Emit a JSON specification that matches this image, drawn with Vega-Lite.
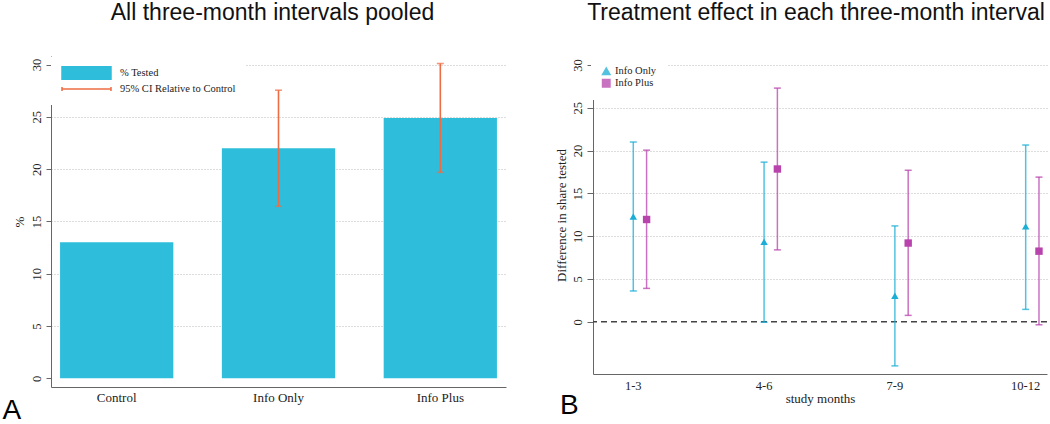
{
  "$schema": "https://vega.github.io/schema/vega-lite/v6.json",
  "background": "white",
  "padding": {"left": 2, "top": 2, "right": 0, "bottom": 0},
  "datasets": {
    "pooled": [
      {"arm": "Control", "pct": 13.0, "lo": null, "hi": null},
      {"arm": "Info Only", "pct": 22.0, "lo": 16.45, "hi": 27.55},
      {"arm": "Info Plus", "pct": 24.9, "lo": 19.7, "hi": 30.1}
    ],
    "intervals": [
      {"months": "1-3", "group": "Info Only", "est": 12.3, "lo": 3.6, "hi": 21.0},
      {"months": "1-3", "group": "Info Plus", "est": 11.95, "lo": 3.9, "hi": 20.05},
      {"months": "4-6", "group": "Info Only", "est": 9.35, "lo": -0.05, "hi": 18.65},
      {"months": "4-6", "group": "Info Plus", "est": 17.85, "lo": 8.4, "hi": 27.3},
      {"months": "7-9", "group": "Info Only", "est": 3.05, "lo": -5.15, "hi": 11.2},
      {"months": "7-9", "group": "Info Plus", "est": 9.2, "lo": 0.75, "hi": 17.7},
      {"months": "10-12", "group": "Info Only", "est": 11.15, "lo": 1.45, "hi": 20.65},
      {"months": "10-12", "group": "Info Plus", "est": 8.25, "lo": -0.35, "hi": 16.9}
    ],
    "zero": [{"ref": 0}]
  },
  "title": {"text": "B", "orient": "bottom", "anchor": "start", "font": "Liberation Sans", "fontSize": 28, "fontWeight": "normal", "color": "#000", "dx": 558, "dy": -32, "offset": 0},
  "spacing": 87,
  "bounds": "flush",
  "resolve": {"scale": {"color": "independent", "shape": "independent"}, "legend": {"color": "independent", "shape": "independent"}},
  "hconcat": [
    {
      "width": 455,
      "height": 331,
      "title": {"text": "All three-month intervals pooled", "offset": 31, "anchor": "middle", "dx": -6},
      "data": {"name": "pooled"},
      "layer": [
        {
          "mark": {"type": "bar"},
          "encoding": {
            "x": {"field": "arm", "type": "nominal", "sort": null,
              "scale": {"paddingInner": 0.3, "paddingOuter": 0.056},
              "axis": {"title": "A", "labelAngle": 0, "ticks": false, "labelPadding": 4, "labelFontSize": 13,
                "titleFont": "Liberation Sans", "titleFontSize": 28, "titleColor": "#000",
                "titleAnchor": "start", "titleAlign": "left", "titleBaseline": "alphabetic", "titleX": -49, "titleY": 31}},
            "y": {"field": "pct", "type": "quantitative",
              "scale": {"domain": [-0.83, 30.82], "nice": false, "zero": false},
              "axis": {"title": "%", "values": [0, 5, 10, 15, 20, 25, 30], "labelAngle": -90, "labelAlign": "center", "labelBaseline": "bottom",
                "tickSize": 5, "labelPadding": 3, "titlePadding": 4, "grid": true,
                "gridOpacity": {"condition": {"test": "datum.value === 0", "value": 0}, "value": 1}}},
            "color": {"datum": "% Tested",
              "scale": {"domain": ["% Tested", "95% CI Relative to Control"], "range": ["#2ebedb", "#ee6c44"]},
              "legend": {"title": null, "orient": "none", "legendX": 0, "legendY": 1, "padding": 10, "fillColor": "white",
                "symbolSize": 100, "labelOffset": 47, "rowPadding": -1.5, "labelFont": "Liberation Serif", "labelFontSize": 10.5, "labelColor": "#222",
                "symbolStrokeWidth": 1.5,
                "encode": {"symbols": {"update": {
                  "shape": {"signal": "datum.value === '% Tested' ? 'M-1,-1.27H8.8V1.27H-1Z' : 'M-1,0H8.8M-1,-0.4V0.4M8.8,-0.4V0.4'"},
                  "fill": {"signal": "datum.value === '% Tested' ? '#2ebedb' : 'transparent'"},
                  "stroke": {"signal": "datum.value === '% Tested' ? 'transparent' : '#ee6c44'"},
                  "strokeWidth": {"value": 1.5}
                }}}}}
          }
        },
        {
          "transform": [{"filter": "isValid(datum.lo)"}],
          "mark": {"type": "rule", "strokeWidth": 1.6},
          "encoding": {
            "x": {"field": "arm", "type": "nominal", "sort": null},
            "y": {"field": "lo", "type": "quantitative"},
            "y2": {"field": "hi"},
            "color": {"datum": "95% CI Relative to Control"}
          }
        },
        {
          "transform": [{"filter": "isValid(datum.lo)"}],
          "mark": {"type": "tick", "size": 7, "thickness": 1.6},
          "encoding": {
            "x": {"field": "arm", "type": "nominal", "sort": null},
            "y": {"field": "lo", "type": "quantitative"},
            "color": {"datum": "95% CI Relative to Control"}
          }
        },
        {
          "transform": [{"filter": "isValid(datum.hi)"}],
          "mark": {"type": "tick", "size": 7, "thickness": 1.6},
          "encoding": {
            "x": {"field": "arm", "type": "nominal", "sort": null},
            "y": {"field": "hi", "type": "quantitative"},
            "color": {"datum": "95% CI Relative to Control"}
          }
        }
      ]
    },
    {
      "width": 454,
      "height": 318,
      "title": {"text": "Treatment effect in each three-month interval", "offset": 31, "anchor": "middle", "dx": -4},
      "layer": [
        {
          "data": {"name": "zero"},
          "mark": {"type": "rule", "strokeDash": [6, 4], "color": "#444", "strokeWidth": 1.5},
          "encoding": {
            "y": {"field": "ref", "type": "quantitative", "title": "Difference in share tested",
              "scale": {"domain": [-6.1, 31.05], "nice": false, "zero": false},
              "axis": {"values": [0, 5, 10, 15, 20, 25, 30], "labelAngle": -90, "labelAlign": "center", "labelBaseline": "bottom",
                "tickSize": 6, "labelPadding": 3, "titlePadding": 3, "grid": true,
                "gridOpacity": {"condition": {"test": "datum.value === 0", "value": 0}, "value": 1}}}
          }
        },
        {
          "data": {"name": "intervals"},
          "mark": {"type": "rule", "strokeWidth": 1.5, "opacity": 0.75},
          "encoding": {
            "x": {"field": "months", "type": "ordinal", "sort": ["1-3", "4-6", "7-9", "10-12"],
              "scale": {"type": "band", "paddingInner": 0.7966, "paddingOuter": 0.1338, "align": 0.961},
              "axis": {"title": "study months", "labelAngle": 0, "ticks": false, "labelPadding": 5, "titlePadding": 1, "labelFontSize": 12.5, "labelOffset": -6.65}},
            "xOffset": {"field": "group", "type": "nominal", "scale": {"domain": ["Info Only", "Info Plus"], "paddingInner": 0, "paddingOuter": 0}},
            "y": {"field": "lo", "type": "quantitative", "title": "Difference in share tested", "scale": {"domain": [-6.1, 31.05], "nice": false, "zero": false}},
            "y2": {"field": "hi"},
            "color": {"field": "group", "type": "nominal", "scale": {"domain": ["Info Only", "Info Plus"], "range": ["#1aaed6", "#b843ad"]}}
          }
        },
        {
          "data": {"name": "intervals"},
          "mark": {"type": "tick", "size": 7, "thickness": 1.5, "opacity": 0.75},
          "encoding": {
            "x": {"field": "months", "type": "ordinal", "sort": ["1-3", "4-6", "7-9", "10-12"]},
            "xOffset": {"field": "group", "type": "nominal"},
            "y": {"field": "lo", "type": "quantitative", "title": "Difference in share tested"},
            "color": {"field": "group", "type": "nominal"}
          }
        },
        {
          "data": {"name": "intervals"},
          "mark": {"type": "tick", "size": 7, "thickness": 1.5, "opacity": 0.75},
          "encoding": {
            "x": {"field": "months", "type": "ordinal", "sort": ["1-3", "4-6", "7-9", "10-12"]},
            "xOffset": {"field": "group", "type": "nominal"},
            "y": {"field": "hi", "type": "quantitative", "title": "Difference in share tested"},
            "color": {"field": "group", "type": "nominal"}
          }
        },
        {
          "data": {"name": "intervals"},
          "mark": {"type": "point", "filled": true, "opacity": 1, "size": 55},
          "encoding": {
            "x": {"field": "months", "type": "ordinal", "sort": ["1-3", "4-6", "7-9", "10-12"]},
            "xOffset": {"field": "group", "type": "nominal"},
            "y": {"field": "est", "type": "quantitative", "title": "Difference in share tested"},
            "color": {"field": "group", "type": "nominal",
              "legend": {"title": null, "orient": "none", "legendX": -2, "legendY": 0, "padding": 10, "fillColor": "white", "symbolSize": 55,
                "labelOffset": 3.5, "rowPadding": -2, "labelFont": "Liberation Serif", "labelFontSize": 10.5, "labelColor": "#222", "symbolOpacity": 1}},
            "shape": {"field": "group", "type": "nominal", "scale": {"domain": ["Info Only", "Info Plus"], "range": ["triangle-up", "square"]},
              "legend": {"title": null, "orient": "none", "legendX": -2, "legendY": 0, "padding": 10, "fillColor": "white", "symbolSize": 55,
                "labelOffset": 3.5, "rowPadding": -2, "labelFont": "Liberation Serif", "labelFontSize": 10.5, "labelColor": "#222", "symbolOpacity": 1}}
          }
        }
      ]
    }
  ],
  "config": {
    "view": {"stroke": null},
    "axis": {"labelFont": "Liberation Serif", "titleFont": "Liberation Serif", "labelColor": "#222", "titleColor": "#222",
      "domainColor": "#666", "tickColor": "#666", "gridColor": "#bbb", "gridDash": [1, 2], "titleFontWeight": "normal",
      "labelFontSize": 12.5, "titleFontSize": 13},
    "title": {"font": "Liberation Sans", "fontSize": 23, "fontWeight": "normal", "color": "#111"}
  }
}
